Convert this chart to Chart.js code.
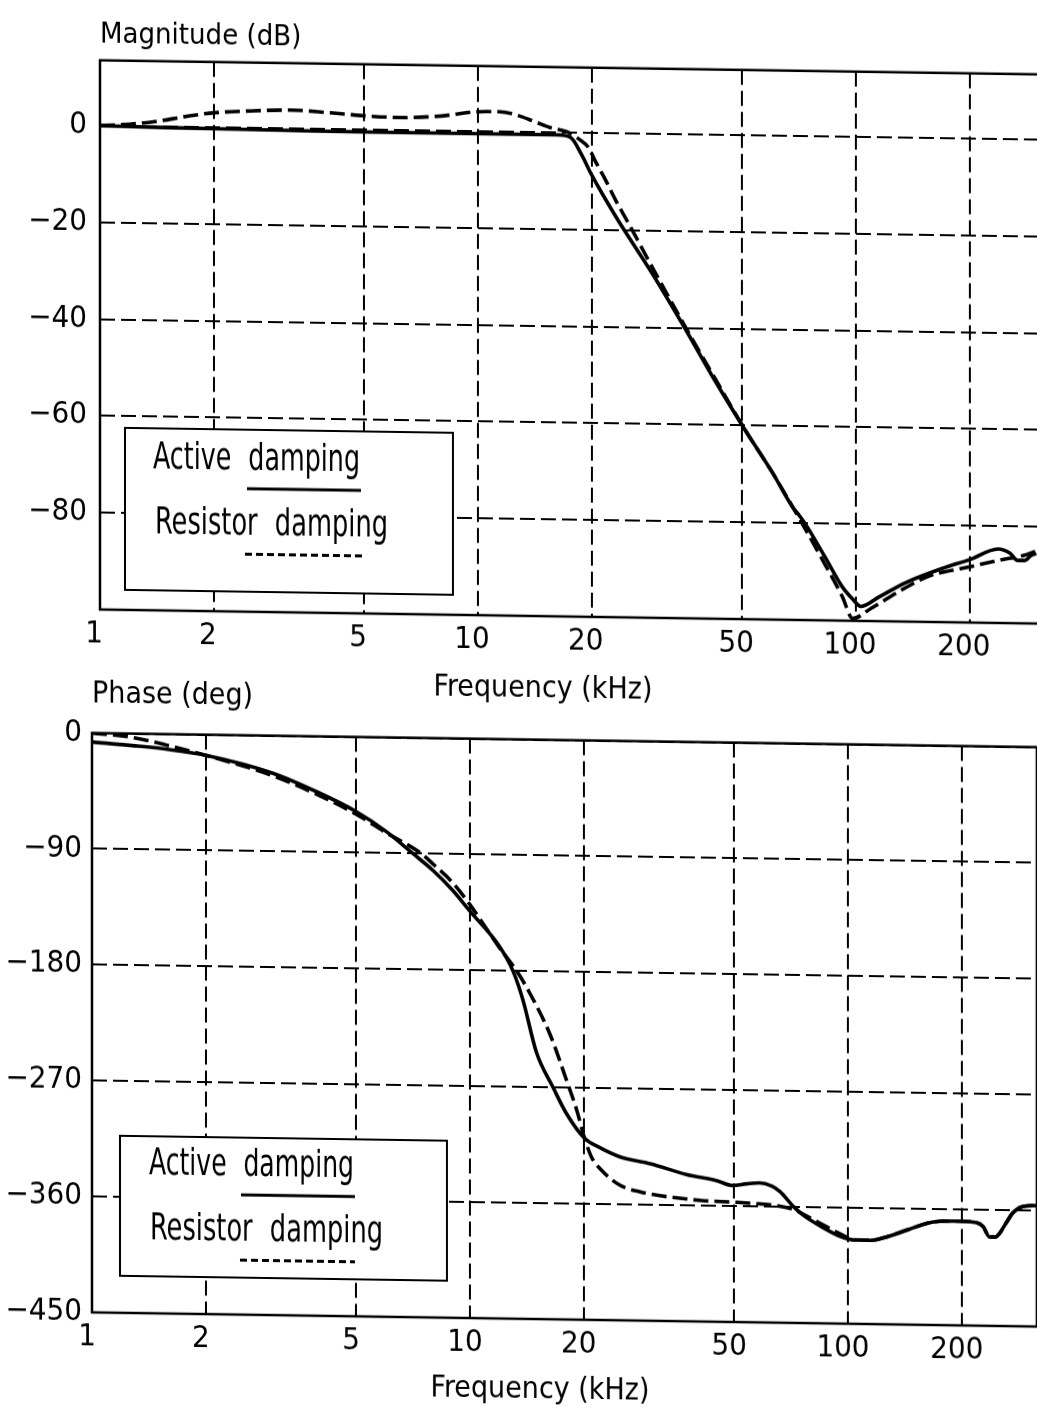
<!DOCTYPE html>
<html>
<head>
<meta charset="utf-8">
<script src="https://cdn.jsdelivr.net/npm/chart.js@4.4.1/dist/chart.umd.min.js"></script>
<style>
html, body { margin: 0; padding: 0; background: #fff; overflow: hidden; width: 1037px; height: 1418px; }
.wrap { position: absolute; left: 0; transform-origin: 0 0; transform: skewY(0.86deg); }
canvas { display: block; }
</style>
</head>
<body>
<div class="wrap" style="top:0px;width:1086px;height:700px"><canvas id="magChart" width="1086" height="700"></canvas></div>
<div class="wrap" style="top:660px;width:1080px;height:740px"><canvas id="phaseChart" width="1080" height="740"></canvas></div>
<script>
// ---------------- data ----------------
const seriesNames = ['Active damping', 'Resistor damping'];
const freqTicks = [1, 2, 5, 10, 20, 50, 100, 200];
const magTicks = [0, -20, -40, -60, -80];
const phaseTicks = [0, -90, -180, -270, -360, -450];

const magActiveFreq = [1, 1.5, 2, 3, 5, 7, 10, 13, 16.3, 17.6, 18.8, 20, 21.5, 23.5, 29, 35, 42, 51, 60, 68, 71, 74, 83, 92, 98, 103, 115, 135, 172, 200, 238, 255, 268, 280, 290, 300];
const magActiveDb = [0, -0.2, -0.3, -0.4, -0.5, -0.5, -0.5, -0.5, -0.5, -1, -4.5, -8.7, -13, -18, -29, -39.6, -50.3, -61, -69.5, -76.7, -78.5, -80.5, -87, -93, -95.5, -97, -95, -92, -88.7, -87, -84.7, -85.5, -87, -87, -86, -85.5];

const magResistorFreq = [1, 1.2, 1.4, 1.7, 2, 2.5, 3.2, 4, 4.9, 6.2, 7.6, 8.5, 9.3, 10.5, 11.4, 12.5, 14.1, 15.5, 17.4, 18.5, 19.6, 20.5, 21.7, 23.2, 25, 29.6, 35.5, 42.5, 51, 60, 72, 85, 92, 98, 110, 130, 155, 200, 240, 277, 300];
const magResistorDb = [0, 0.4, 1.0, 2.2, 3.0, 3.5, 3.8, 3.4, 2.9, 2.6, 2.9, 3.3, 3.8, 4.1, 4.1, 3.6, 2.2, 1.0, 0, -1.3, -3.0, -6, -9.5, -14, -18.5, -29, -40, -50.5, -61, -69.5, -80, -90, -95, -99.5, -97.3, -93.8, -90.6, -88.5, -87, -86, -85];

const phaseActiveFreq = [1, 1.3, 1.6, 2, 3, 4, 5, 6, 7.07, 8, 9, 10, 11.9, 13, 13.8, 15, 16.6, 18, 20.1, 22, 24.9, 30, 37.4, 45, 49.5, 54, 58.4, 63, 66, 72, 76, 84, 95, 105, 115, 127, 145, 168, 195, 219, 228, 237, 245, 252, 262, 273, 290, 316];
const phaseActiveDeg = [-7, -9.5, -12, -16, -29, -44, -58, -73, -90, -103, -118, -134, -160, -180, -202, -243, -270, -290, -309, -316, -323, -328, -336, -340.5, -344, -342.5, -341.6, -344, -348, -360, -366, -374, -382, -385, -385, -382, -376, -370, -369, -370, -373, -381, -381, -378, -370, -362, -357, -356];

const phaseResistorFreq = [1, 1.28, 1.6, 2, 3, 4, 5, 6, 7.45, 8, 9, 10, 11.9, 13.3, 14.4, 16.3, 18, 19.2, 20.1, 21, 22, 24.9, 28.2, 30.6, 41, 50.8, 66, 72, 78, 84, 95, 105, 115, 127, 145, 168, 195, 219, 228, 237, 245, 252, 262, 273, 290, 316];
const phaseResistorDeg = [0, -3, -9, -16, -31, -46, -60, -74, -90, -98, -112, -129, -161, -180, -197, -229, -264, -288, -309, -324, -332, -345, -350, -352, -356, -357, -359.5, -362, -367, -372, -380, -385, -385, -382, -376, -370, -369, -370, -373, -381, -381, -378, -370, -362, -357, -356];

// ---------------- helpers ----------------
const pts = (xs, ys) => xs.map((x, i) => ({ x: x, y: ys[i] }));
const fmt = v => (v < 0 ? '\u2212' + Math.abs(v) : String(v));
const FAM = '"DejaVu Sans Condensed", "DejaVu Sans", sans-serif';
const LEG_FAM = '"Liberation Sans Narrow", "DejaVu Sans Condensed", sans-serif';
Chart.defaults.color = '#000';
Chart.defaults.font.family = FAM;

const framePlugin = {
  id: 'frame',
  afterDatasetsDraw(chart) {
    const a = chart.chartArea, ctx = chart.ctx;
    ctx.save();
    ctx.strokeStyle = '#000';
    ctx.lineWidth = 2.5;
    ctx.setLineDash([]);
    ctx.strokeRect(a.left, a.top, a.right - a.left, a.bottom - a.top);
    ctx.restore();
  }
};

const dampLegendPlugin = {
  id: 'dampLegend',
  afterDraw(chart, args, opts) {
    if (!opts || !opts.box) return;
    const ctx = chart.ctx;
    const b = opts.box;
    ctx.save();
    ctx.fillStyle = '#fff';
    ctx.fillRect(b[0], b[1], b[2], b[3]);
    ctx.strokeStyle = '#000';
    ctx.lineWidth = 2;
    ctx.setLineDash([]);
    ctx.strokeRect(b[0], b[1], b[2], b[3]);
    opts.rows.forEach(r => {
      ctx.save();
      ctx.font = opts.size + 'px ' + LEG_FAM;
      if ('wordSpacing' in ctx) ctx.wordSpacing = opts.wordSpacing + 'px';
      const w = ctx.measureText(r.text).width;
      ctx.translate(r.x, r.base);
      ctx.scale(r.width / w, 1);
      ctx.fillStyle = '#000';
      ctx.textAlign = 'left';
      ctx.textBaseline = 'alphabetic';
      ctx.fillText(r.text, 0, 0);
      ctx.restore();
      ctx.beginPath();
      ctx.lineWidth = 3;
      ctx.setLineDash(r.dash);
      ctx.moveTo(r.x1, r.ly);
      ctx.lineTo(r.x2, r.ly);
      ctx.stroke();
    });
    ctx.restore();
  }
};

function xAxis(labelOffset) {
  return {
    type: 'logarithmic',
    min: 1,
    max: 316.23,
    afterBuildTicks: s => { s.ticks = freqTicks.map(v => ({ value: v })); },
    afterFit: s => { s.height = 50; },
    grid: { color: '#000', lineWidth: 2, drawTicks: false },
    border: { display: false, dash: [15, 6] },
    ticks: {
      font: { size: 31, family: FAM },
      padding: 6,
      labelOffset: labelOffset,
      maxRotation: 0,
      autoSkip: false,
      callback: v => String(v)
    }
  };
}

function yAxis(min, max, ticks, width, pad) {
  return {
    type: 'linear',
    position: 'left',
    min: min,
    max: max,
    afterBuildTicks: s => { s.ticks = ticks.map(v => ({ value: v })); },
    afterFit: s => { s.width = width; },
    grid: { color: '#000', lineWidth: 2, drawTicks: false },
    border: { display: false, dash: [15, 6] },
    ticks: { font: { size: 31, family: FAM }, padding: pad, callback: v => fmt(v) }
  };
}

function dummyRight(width) {
  return {
    type: 'linear',
    position: 'right',
    display: true,
    grid: { display: false, drawTicks: false },
    border: { display: false },
    ticks: { display: false },
    afterFit: s => { s.width = width; }
  };
}

function lineSet(label, data, dashed) {
  return {
    label: label,
    data: data,
    borderColor: '#000',
    backgroundColor: '#000',
    borderWidth: 3.6,
    borderDash: dashed ? [15, 6] : [],
    pointRadius: 0,
    fill: false,
    cubicInterpolationMode: 'monotone'
  };
}

// ---------------- magnitude chart ----------------
new Chart(document.getElementById('magChart'), {
  type: 'line',
  data: {
    datasets: [
      lineSet(seriesNames[0], pts(magActiveFreq, magActiveDb), false),
      lineSet(seriesNames[1], pts(magResistorFreq, magResistorDb), true)
    ]
  },
  options: {
    responsive: false,
    animation: false,
    devicePixelRatio: 1,
    events: [],
    layout: { padding: 0 },
    scales: {
      x: xAxis(-6),
      y: yAxis(-100, 13.5, magTicks, 100, 13),
      yr: dummyRight(41)
    },
    plugins: {
      legend: { display: false },
      tooltip: { enabled: false },
      title: {
        display: true, text: 'Magnitude (dB)', align: 'start', fullSize: false,
        font: { size: 29, weight: 'normal', family: FAM, lineHeight: 1.2 },
        padding: { top: 16, bottom: 8 }
      },
      subtitle: {
        display: true, text: 'Frequency (kHz)', position: 'bottom', align: 'center', fullSize: true,
        font: { size: 30, weight: 'normal', family: FAM, lineHeight: 1.2 },
        padding: { top: 5, bottom: 1 }
      },
      dampLegend: {
        size: 38,
        wordSpacing: 12,
        box: [125, 426, 328, 162],
        rows: [
          { text: seriesNames[0], x: 153, base: 466, width: 207, x1: 247, x2: 361, ly: 485, dash: [] },
          { text: seriesNames[1], x: 155, base: 531, width: 233, x1: 245, x2: 362, ly: 550.5, dash: [7, 4] }
        ]
      }
    }
  },
  plugins: [framePlugin, dampLegendPlugin]
});

// ---------------- phase chart ----------------
new Chart(document.getElementById('phaseChart'), {
  type: 'line',
  data: {
    datasets: [
      lineSet(seriesNames[0], pts(phaseActiveFreq, phaseActiveDeg), false),
      lineSet(seriesNames[1], pts(phaseResistorFreq, phaseResistorDeg), true)
    ]
  },
  options: {
    responsive: false,
    animation: false,
    devicePixelRatio: 1,
    events: [],
    layout: { padding: 0 },
    scales: {
      x: xAxis(-5),
      y: yAxis(-450, 0, phaseTicks, 92, 10),
      yr: dummyRight(43)
    },
    plugins: {
      legend: { display: false },
      tooltip: { enabled: false },
      title: {
        display: true, text: 'Phase (deg)', align: 'start', fullSize: false,
        font: { size: 30, weight: 'normal', family: FAM, lineHeight: 1.2 },
        padding: { top: 15, bottom: 20.6 }
      },
      subtitle: {
        display: true, text: 'Frequency (kHz)', position: 'bottom', align: 'center', fullSize: true,
        font: { size: 30, weight: 'normal', family: FAM, lineHeight: 1.2 },
        padding: { top: 3, bottom: 0 }
      },
      dampLegend: {
        size: 38,
        wordSpacing: 12,
        box: [120, 474, 327, 140],
        rows: [
          { text: seriesNames[0], x: 149, base: 511.5, width: 205, x1: 241, x2: 355, ly: 531.2, dash: [] },
          { text: seriesNames[1], x: 150, base: 576.5, width: 233, x1: 240, x2: 355, ly: 596.5, dash: [7, 4] }
        ]
      }
    }
  },
  plugins: [framePlugin, dampLegendPlugin]
});
</script>
</body>
</html>
